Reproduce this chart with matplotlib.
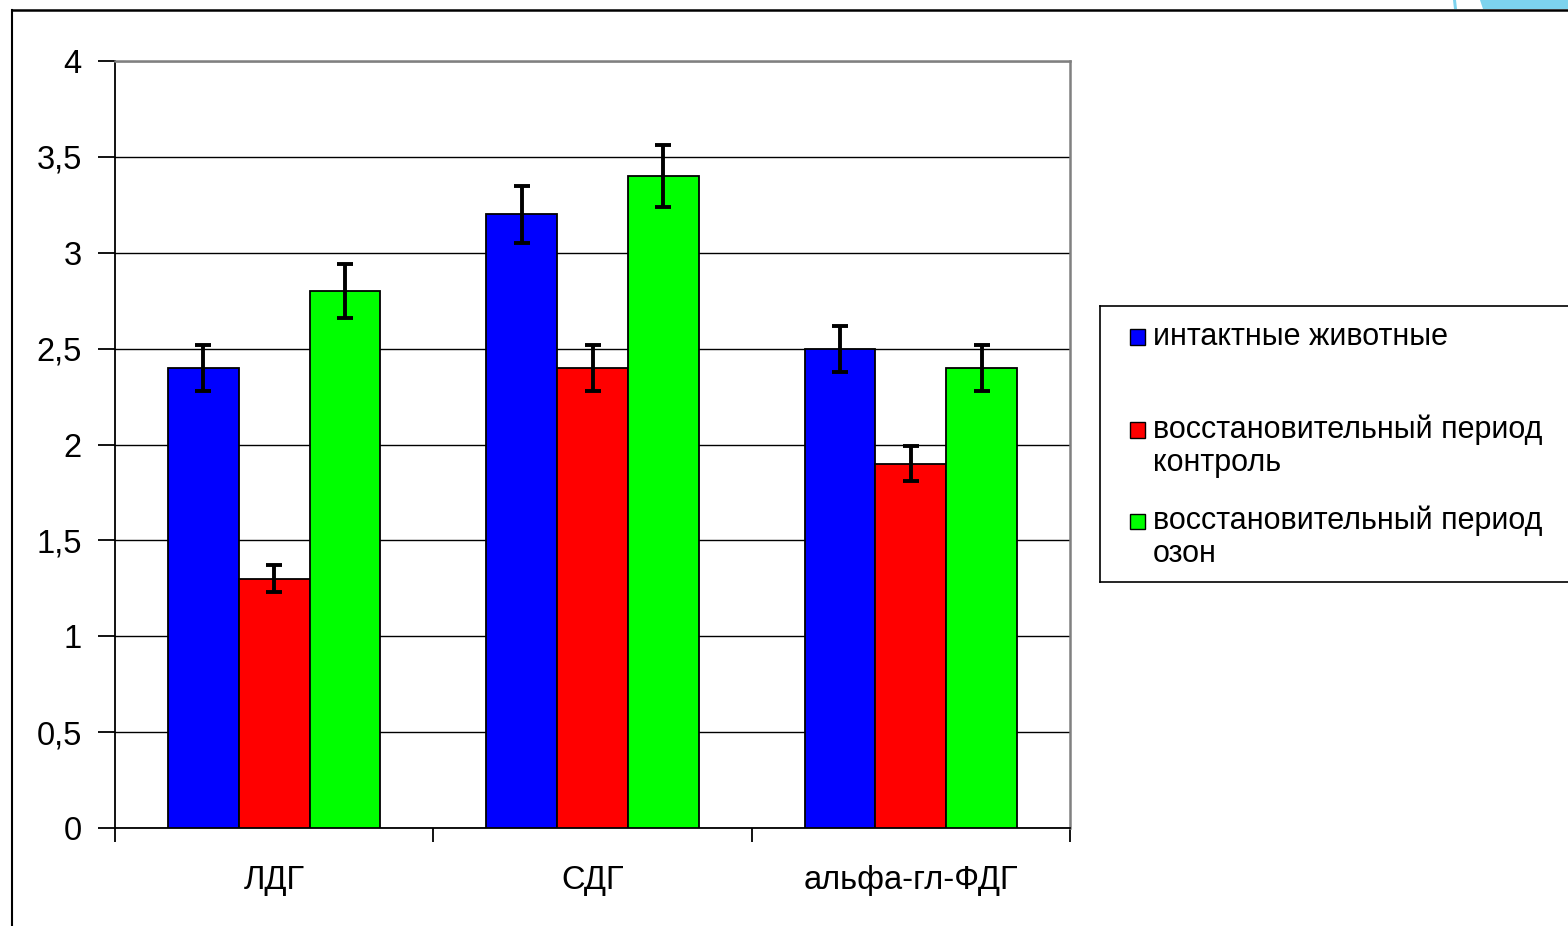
import numpy as np
import matplotlib
matplotlib.use("Agg")
import matplotlib.pyplot as plt
from matplotlib.patches import Rectangle, Polygon
from matplotlib.lines import Line2D

plt.rcParams['font.family'] = ['Liberation Sans', 'DejaVu Sans']

# Data
categories = ["ЛДГ", "СДГ", "альфа-гл-ФДГ"]
series_names = ["интактные животные",
                "восстановительный период\nконтроль",
                "восстановительный период\nозон"]
intact = [2.4, 3.2, 2.5]
recovery_control = [1.3, 2.4, 1.9]
recovery_ozone = [2.8, 3.4, 2.4]
err_intact = [0.12, 0.15, 0.12]
err_control = [0.07, 0.12, 0.09]
err_ozone = [0.14, 0.16, 0.12]
y_ticks = [0, 0.5, 1, 1.5, 2, 2.5, 3, 3.5, 4]
y_tick_labels = ["0", "0,5", "1", "1,5", "2", "2,5", "3", "3,5", "4"]

colors = ["#0000ff", "#ff0000", "#00ff00"]
values = [intact, recovery_control, recovery_ozone]
errors = [err_intact, err_control, err_ozone]

W, H, DPI = 1568, 926, 100
fig = plt.figure(figsize=(W / DPI, H / DPI), dpi=DPI)
fig.patch.set_facecolor("white")

def px(x, y):
    """Pixel coordinates (from top-left) to figure fraction."""
    return x / W, 1 - y / H

# Plot area
left, right, top, bottom = 115, 1070, 61, 828
ax = fig.add_axes([left / W, 1 - bottom / H, (right - left) / W, (bottom - top) / H])

x = np.arange(len(categories))
bw = 0.222
for i, (vals, errs, col) in enumerate(zip(values, errors, colors)):
    ax.bar(x + (i - 1) * bw, vals, width=bw, color=col, edgecolor="black",
           linewidth=1.3, zorder=3)
    ax.errorbar(x + (i - 1) * bw, vals, yerr=errs, fmt="none", ecolor="black",
                elinewidth=2.8, capsize=6, capthick=2.8, zorder=4)

ax.set_xlim(-0.5, len(categories) - 0.5)
ax.set_ylim(0, 4)
ax.set_yticks(y_ticks)
ax.set_yticklabels(y_tick_labels)
ax.yaxis.grid(True, color="black", linewidth=1.0, zorder=0)
ax.set_axisbelow(True)

ax.set_xticks(x)
ax.set_xticklabels(categories)
ax.set_xticks(np.arange(len(categories) + 1) - 0.5, minor=True)
ax.tick_params(axis="x", which="major", length=0, pad=27, labelsize=23.5)
ax.tick_params(axis="x", which="minor", length=10, width=1.3, direction="out")
ax.tick_params(axis="y", length=12, width=1.3, pad=12, labelsize=23.5, direction="out")

for s in ("left", "bottom"):
    ax.spines[s].set_color("black")
    ax.spines[s].set_linewidth(1.3)
for s in ("top", "right"):
    ax.spines[s].set_color("#808080")
    ax.spines[s].set_linewidth(1.8)

# Legend drawn in figure pixels
lx0, ly0, ly1 = 1100, 306, 582
fig.add_artist(Line2D([lx0 / W, lx0 / W], [1 - ly0 / H, 1 - ly1 / H], color="black", lw=1.2))
fig.add_artist(Line2D([lx0 / W, 1], [1 - ly0 / H, 1 - ly0 / H], color="black", lw=1.2))
fig.add_artist(Line2D([lx0 / W, 1], [1 - ly1 / H, 1 - ly1 / H], color="black", lw=1.2))

entry_y = [337, 430, 521]
line_gap = 33
for name, col, yc in zip(series_names, colors, entry_y):
    sx, sy = px(1130, yc + 7.5)
    fig.add_artist(Rectangle((sx, sy), 15 / W, 15 / H, facecolor=col,
                             edgecolor="black", linewidth=1.0, transform=fig.transFigure))
    for j, line in enumerate(name.split("\n")):
        tx, ty = px(1153, yc + j * line_gap)
        fig.text(tx, ty, line, fontsize=22, va="center", ha="left", color="black")

# Slide frame
fig.add_artist(Line2D([12 / W, 12 / W], [1 - 10 / H, 0], color="black", lw=1.5))
fig.add_artist(Line2D([12 / W, 1], [1 - 10 / H, 1 - 10 / H], color="black", lw=1.8))
fig.add_artist(Polygon([px(1480, 0), px(1568, 0), px(1568, 9), px(1483, 9)],
                       closed=True, facecolor="#7dd3ee", edgecolor="none",
                       transform=fig.transFigure))
fig.add_artist(Polygon([px(1453, 0), px(1456, 0), px(1457, 9), px(1454, 9)],
                       closed=True, facecolor="#7dd3ee", edgecolor="none",
                       transform=fig.transFigure))

fig.savefig("out.png", dpi=DPI)
